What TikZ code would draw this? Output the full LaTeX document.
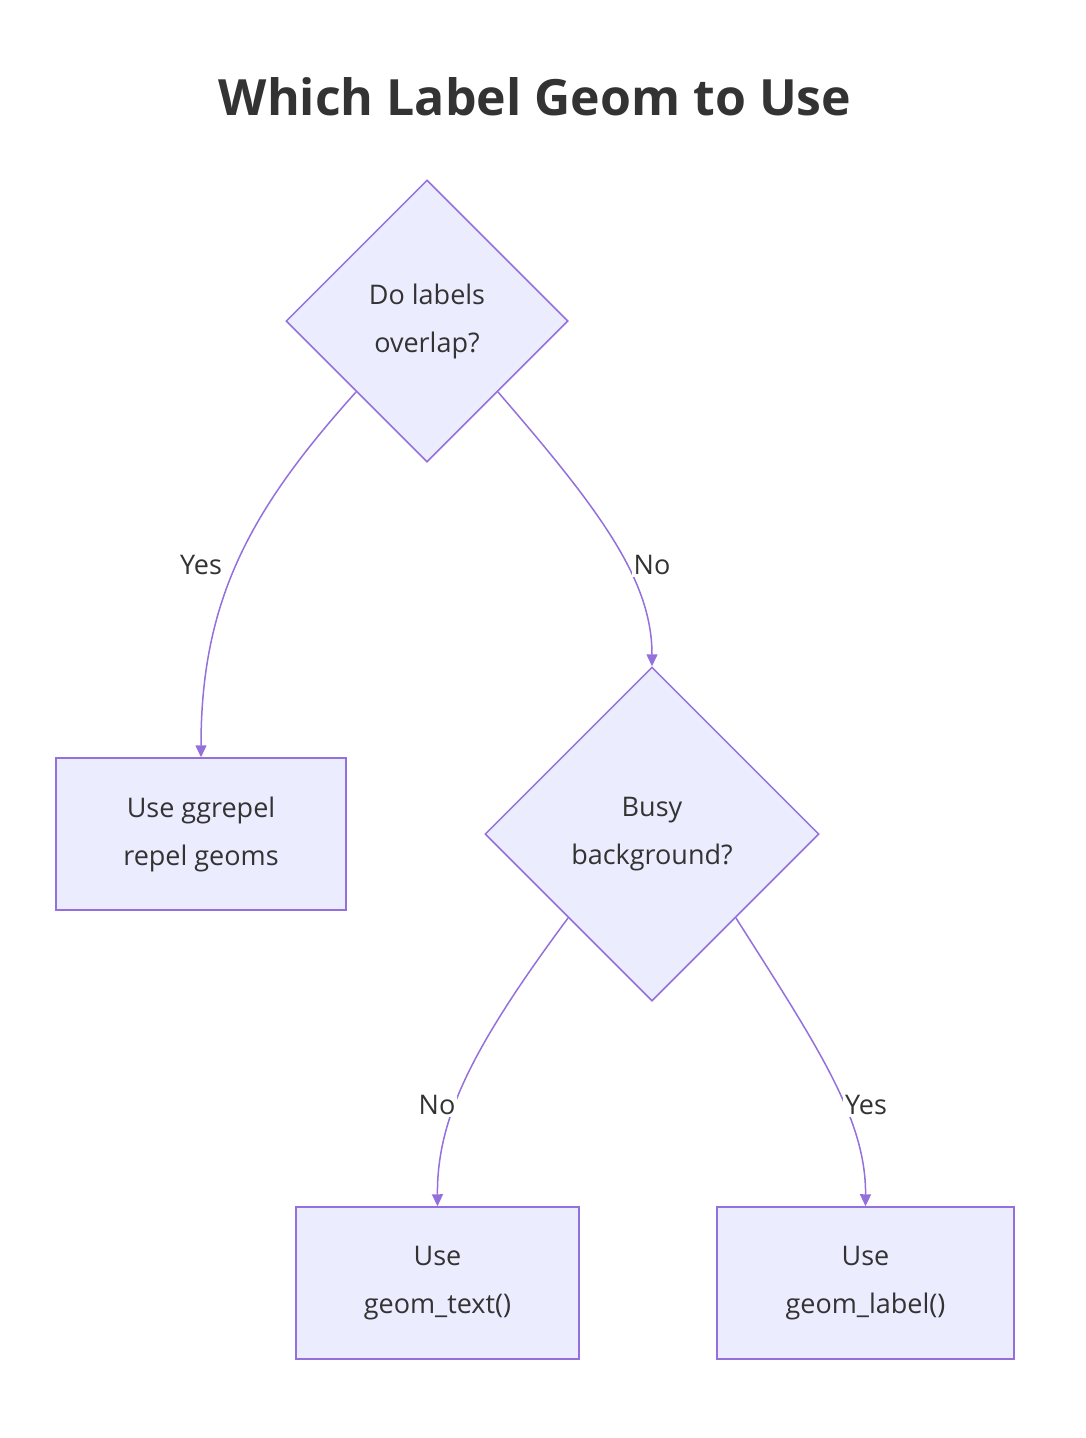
\documentclass[tikz,border=0pt]{standalone}
\usepackage{fontspec}
\setmainfont{Open Sans}
\usetikzlibrary{shapes.geometric,arrows.meta}
\definecolor{nfill}{HTML}{ECECFF}
\definecolor{nline}{HTML}{9370DB}
\definecolor{txt}{HTML}{333333}
\begin{document}
\begin{tikzpicture}[x=1pt,y=-1pt,
  every node/.style={text=txt,font=\fontsize{27}{48}\selectfont,align=center},
  dec/.style={shape=diamond,draw=nline,fill=nfill,line width=1.5pt,inner sep=0pt},
  box/.style={draw=nline,fill=nfill,line width=1.5pt,inner sep=0pt},
  lab/.style={fill=white,inner sep=2pt},
  edge/.style={draw=nline,line width=1.5pt,-{Triangle[length=12pt,width=11pt]}}]
\useasboundingbox (0,0) rectangle (1086,1438);
\node (title) at (535,97) {\fontsize{50}{60}\selectfont\bfseries Which Label Geom to Use};
\node[dec,minimum width=282,minimum height=282] (d1) at (427,321) {Do labels\\overlap?};
\node[dec,minimum width=334,minimum height=334] (d2) at (652,834) {Busy\\background?};
\node[box,minimum width=290,minimum height=152] (b1) at (201,834) {Use ggrepel\\repel geoms};
\node[box,minimum width=283,minimum height=152] (b2) at (437.5,1283) {Use\\geom\_text()};
\node[box,minimum width=297,minimum height=152] (b3) at (865.5,1283) {Use\\geom\_label()};
\draw[edge] (d1.south west) .. controls (250,510) and (201,600) .. (b1.north);
\draw[edge] (d1.south east) .. controls (600,510) and (652,580) .. (d2.north);
\draw[edge] (d2.south west) .. controls (470,1050) and (437,1120) .. (b2.north);
\draw[edge] (d2.south east) .. controls (820,1050) and (866,1120) .. (b3.north);
\node[lab] (l1) at (201,565) {Yes};
\node[lab] (l2) at (652,565) {No};
\node[lab] (l3) at (437,1105) {No};
\node[lab] (l4) at (866,1105) {Yes};
\end{tikzpicture}
\end{document}
